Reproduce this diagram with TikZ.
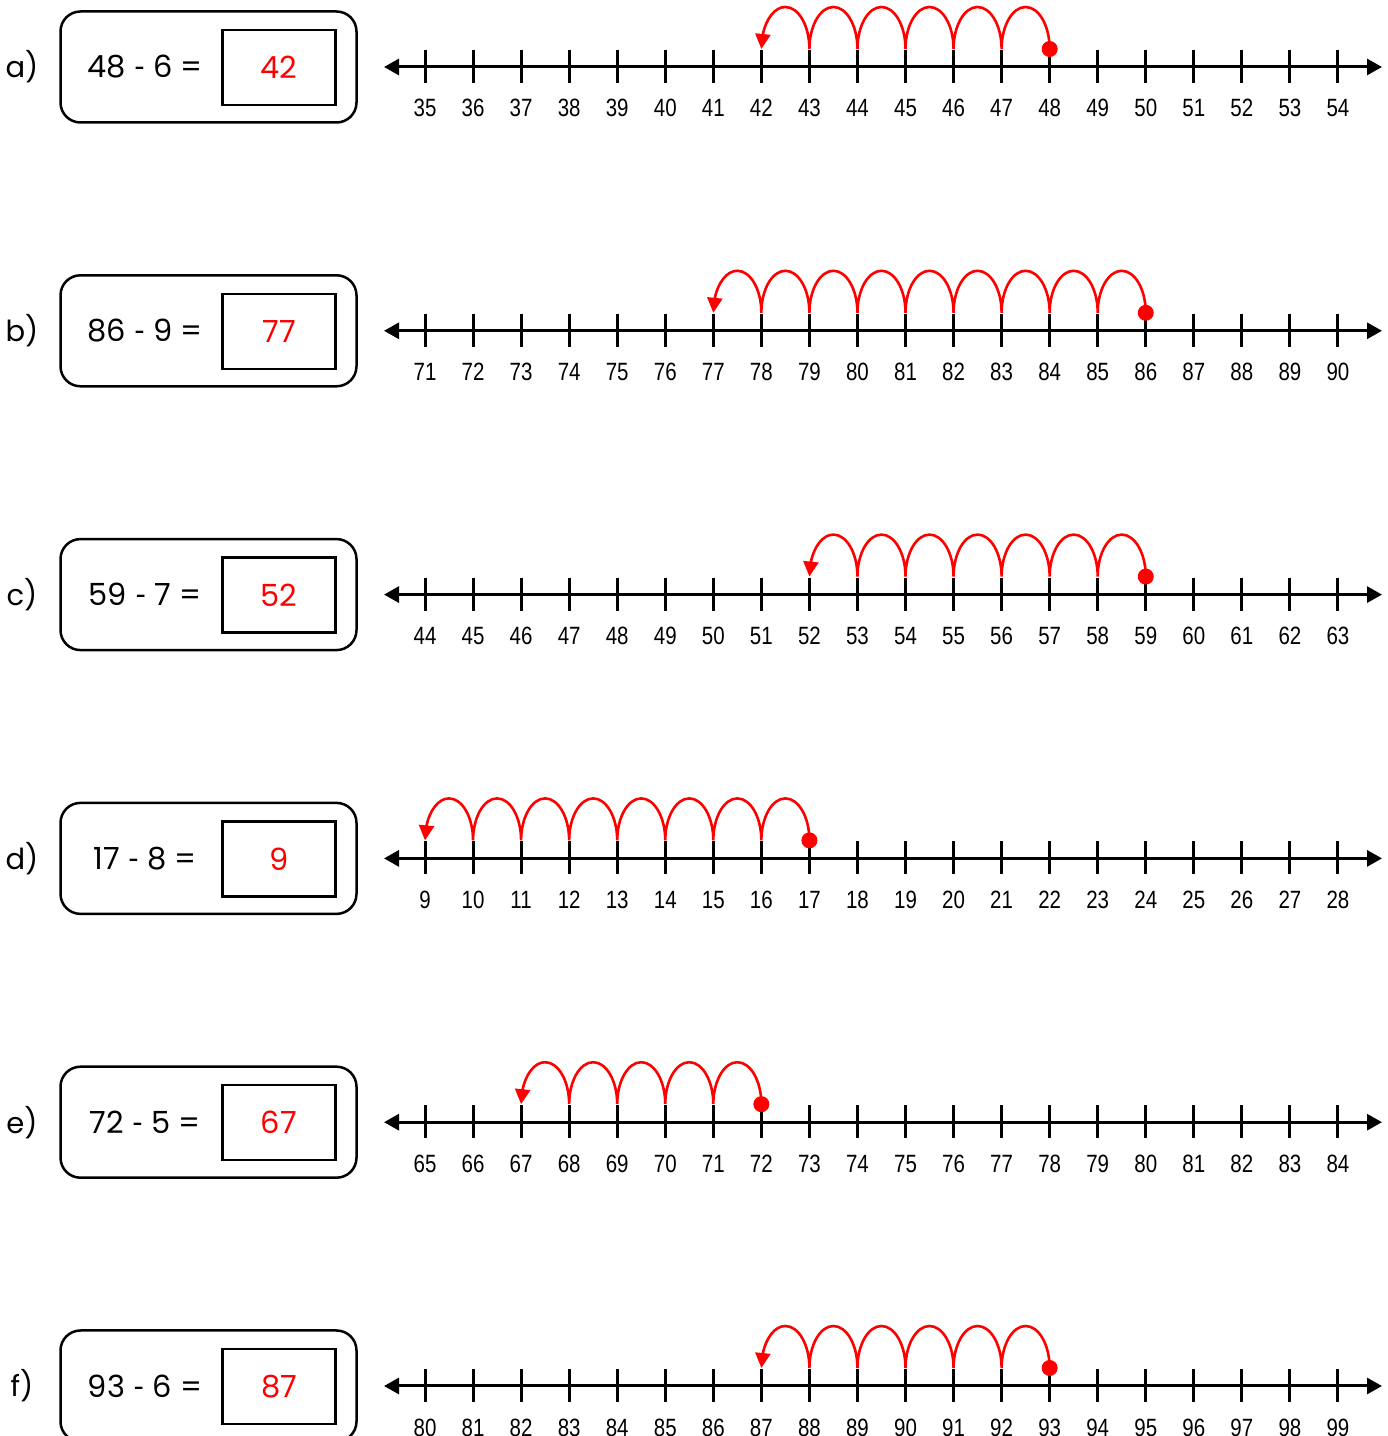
\documentclass[tikz,border=0pt]{standalone}
\usepackage{fontspec}
\setmainfont{Liberation Sans}
\newfontfamily\boxfont{Poppins}
\newfontfamily\dashfont{Lato}
\usetikzlibrary{arrows.meta,bending}
\newcommand{\shortdash}{{\dashfont -}}
\begin{document}
\begin{tikzpicture}[x=1pt,y=1pt,
  axisline/.style={line width=3pt,{Triangle[length=15pt,width=16pt]}-{Triangle[length=15pt,width=16pt]}},
  tickmark/.style={line width=3pt},
  jump/.style={red,line width=2.6pt,-{Triangle[flex,length=15pt,width=15pt]}},
  outerbox/.style={draw,line width=2.5pt,rounded corners=20pt,minimum width=296pt,minimum height=111pt,inner sep=0pt},
  ansbox/.style={draw,line width=2.5pt,minimum width=113pt,minimum height=75pt,inner sep=0pt,text=red,font=\boxfont\fontsize{30.5}{30.5}\selectfont},
  eqtext/.style={font=\boxfont\fontsize{30.5}{30.5}\selectfont,inner sep=0pt},
  rowlabel/.style={font=\boxfont\fontsize{29}{29}\selectfont,inner sep=0pt},
  numlabel/.style={font=\fontsize{25}{25}\selectfont,inner sep=0pt,anchor=base},
  startdot/.style={circle,fill=red,minimum size=16pt,inner sep=0pt}
]
\useasboundingbox (0,0) rectangle (1388,1436);
\foreach \lab/\a/\b/\c/\s [count=\k from 0] in {a/48/6/42/35, b/86/9/77/71, c/59/7/52/44, d/17/8/9/9, e/72/5/67/65, f/93/6/87/80}{
  \pgfmathsetmacro\Y{1369-263.8*\k}
  \node[rowlabel] (lab-\lab) at (22,\Y) {\lab)};
  \node[outerbox] (box-\lab) at (208.5,\Y) {};
  \node[eqtext] (eq-\lab) at (145,\Y) {\a\ \shortdash\ \b\ =};
  \node[ansbox] (ans-\lab) at (279,\Y-0.5) {\c};
  \coordinate (L-\lab) at (384,\Y);
  \coordinate (R-\lab) at (1382,\Y);
  \draw[axisline] (L-\lab) -- (R-\lab);
  \foreach \i in {0,...,19}{
    \pgfmathsetmacro\X{425+48.05*\i}
    \pgfmathtruncatemacro\n{\s+\i}
    \coordinate (t-\lab-\i) at (\X,\Y+18);
    \coordinate (b-\lab-\i) at (\X,\Y-16);
    \draw[tickmark] (\X,\Y+17) -- (b-\lab-\i);
    \node[numlabel] (n-\lab-\i) at (\X,\Y-50) {\scalebox{0.82}[1]{\n}};
  }
  \pgfmathtruncatemacro\jz{\a-\s}
  \draw[jump] (t-\lab-\jz) \foreach \m in {1,...,\b}{ arc[start angle=0,end angle=180,x radius=24.025pt,y radius=42pt] };
  \node[startdot] (d-\lab) at (t-\lab-\jz) {};
}
\end{tikzpicture}
\end{document}
